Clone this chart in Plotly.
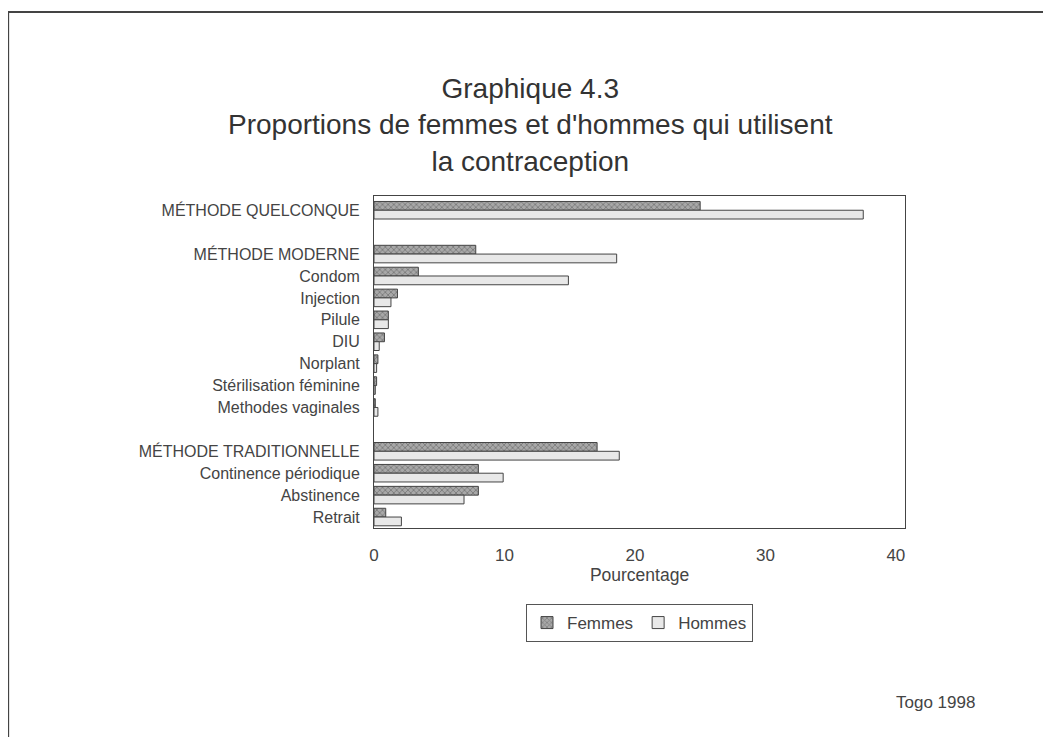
import plotly.graph_objects as go

categories = [
    "MÉTHODE QUELCONQUE", " ",
    "MÉTHODE MODERNE", "Condom", "Injection", "Pilule", "DIU", "Norplant",
    "Stérilisation féminine", "Methodes vaginales", "  ",
    "MÉTHODE TRADITIONNELLE", "Continence périodique", "Abstinence", "Retrait",
]
femmes = [25.0, None, 7.8, 3.4, 1.8, 1.1, 0.8, 0.3, 0.2, 0.1, None, 17.1, 8.0, 8.0, 0.9]
hommes = [37.5, None, 18.6, 14.9, 1.3, 1.1, 0.4, 0.2, 0.1, 0.3, None, 18.8, 9.9, 6.9, 2.1]
x_ticks = [0, 10, 20, 30, 40]
title_lines = ["Graphique 4.3", "Proportions de femmes et d'hommes qui utilisent", "la contraception"]

FONT = "Liberation Sans, Arial, sans-serif"

fig = go.Figure()
fig.add_trace(go.Bar(
    y=categories, x=femmes, orientation="h", name="Femmes",
    marker=dict(color="#a0a0a0", line=dict(color="#444", width=1),
                pattern=dict(shape="x", size=4, fgcolor="#505050", bgcolor="#a8a8a8", solidity=0.4)),
))
fig.add_trace(go.Bar(
    y=categories, x=hommes, orientation="h", name="Hommes",
    marker=dict(color="#e8e8e8", line=dict(color="#444", width=1)),
))

annotations = [
    dict(text="<br>".join(title_lines), xref="paper", yref="paper", x=0.294, y=1.214,
         xanchor="center", yanchor="middle", align="center",
         showarrow=False, font=dict(size=28, color="#333", family=FONT)),
    dict(text="Togo 1998", xref="paper", yref="paper", x=1.058, y=-0.527,
         xanchor="center", yanchor="middle", showarrow=False,
         font=dict(size=17, color="#444", family=FONT)),
]

fig.update_layout(
    width=1051, height=737,
    paper_bgcolor="white", plot_bgcolor="white",
    barmode="group", bargap=0.2, bargroupgap=0.0,
    margin=dict(l=366, r=154, t=188, b=217),
    font=dict(family=FONT, color="#444", size=17),
    showlegend=True,
    legend=dict(orientation="h", x=0.5, xanchor="center", y=-0.229, yanchor="top",
                bordercolor="#555", borderwidth=1, font=dict(size=17, color="#444"),
                itemwidth=30, traceorder="normal", tracegroupgap=0),
    annotations=annotations,
    shapes=[
        dict(type="line", xref="paper", yref="paper", x0=-0.696, x1=1.4, y0=1.554, y1=1.554,
             line=dict(color="#444", width=2)),
        dict(type="line", xref="paper", yref="paper", x0=-0.689, x1=-0.689, y0=1.554, y1=-0.8,
             line=dict(color="#444", width=2)),
    ],
)
fig.update_xaxes(range=[0, 40.7], tickvals=x_ticks, showgrid=False, zeroline=False,
                 showline=True, linecolor="#444", linewidth=1, mirror=True,
                 ticks="", ticklabelstandoff=12, tickfont=dict(size=17, color="#444"),
                 title=dict(text="Pourcentage", font=dict(size=17.5, color="#444"), standoff=4))
fig.update_yaxes(categoryorder="array", categoryarray=categories,
                 range=[14.5, -0.65], showgrid=False, zeroline=False,
                 showline=True, linecolor="#444", linewidth=1, mirror=True,
                 ticks="", ticklabelstandoff=10, tickfont=dict(size=16, color="#444"))

fig.write_html("out.html")
